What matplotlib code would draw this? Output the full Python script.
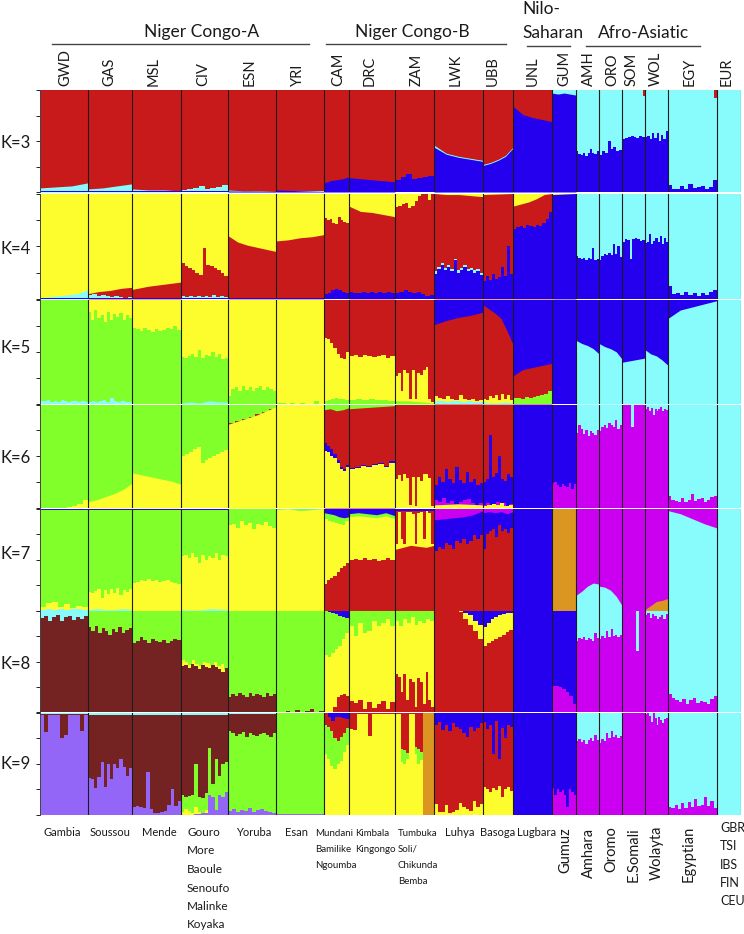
import matplotlib
matplotlib.use('Agg')
import matplotlib.pyplot as plt
import numpy as np

RED = '#C8191B'
YELLOW = '#FDFC2D'
CYAN = '#88FCFC'
BLUE = '#2400EE'
GREEN = '#80FF2A'
MAGENTA = '#CC00F0'
BROWN = '#752222'
ORANGE = '#DA9620'
PURPLE = '#9466F8'

pop_codes = ['GWD', 'GAS', 'MSL', 'CIV', 'ESN', 'YRI', 'CAM', 'DRC', 'ZAM', 'LWK', 'UBB',
             'UNL', 'GUM', 'AMH', 'ORO', 'SOM', 'WOL', 'EGY', 'EUR']
pop_sizes = [48, 44, 49, 47, 48, 48, 25, 46, 39, 49, 30, 39, 24, 23, 23, 23, 23, 49, 24]

# every list below: one sublist per population, in pop_codes order, upper edge in percent.
# 1 value = flat, up to 6 = trend, 7 or more = one column per value
k3_cyan = [[4, 5, 6, 9], [3, 4, 6, 8], [3, 2, 2, 1], [2, 3, 4, 6, 3, 4, 5, 7], [2, 1, 1, 0.5], [0.5], [0], [0], [0],
           [46, 38, 35, 33, 31], [27, 29, 32, 36, 44], [0], [100], [100], [100],
           [100, 100, 100, 100, 100, 100, 100, 100, 100, 94], [100],
           [100, 100, 100, 100, 100, 100, 100, 100, 100, 100, 100, 100, 100, 100, 92], [100]]
k3_blue = [[1], [1], [0.5], [0.5], [1, 0.5], [2, 0.5], [9, 11, 12, 13, 15], [14, 13, 12, 11, 10],
           [12, 15, 18, 13, 14, 15, 16], [44, 37, 34, 32, 30], [26, 28, 31, 35, 43], [84, 76, 73, 71, 69],
           [97, 96, 97, 96, 95], [40, 37, 36, 38, 35, 38, 42, 38, 37, 40], [36, 40, 38, 50, 42, 44, 40, 41],
           [52, 53, 54, 55, 54, 53, 55, 54], [54, 55, 52, 58, 53, 58, 50, 56, 52, 60],
           [7, 3, 3, 6, 3, 8, 4, 5, 6, 3, 5, 12], [0]]

k4_red = [[0], [5, 7, 8, 10, 11], [9, 12, 14, 16], [34, 31, 29, 27, 25, 23, 48, 32, 31, 29, 27, 25, 22],
          [60, 54, 51, 49, 47, 45], [55, 56, 58, 59, 61], [77, 75, 76, 72, 71, 78, 75, 73, 72], [88, 83, 82, 80, 78],
          [87, 88, 90, 91, 86, 88, 93, 98, 100, 100, 94, 100], [100, 99, 99, 98, 97], [99, 100],
          [88, 90, 92, 95, 99, 100], [0], [0], [0], [0], [0], [0], [0]]
k4_cyan = [[1, 2, 3, 4, 5, 9], [4, 5, 3, 4, 3, 2, 3, 2, 1, 2], [1], [3, 2, 3, 2, 3, 2, 3, 2, 4, 2, 3, 2], [0], [0], [0], [0], [0],
           [26, 30, 34, 29, 32, 28, 38, 27, 29, 32, 28, 29, 27, 28, 25], [0], [0], [0], [100], [100],
           [100, 100, 100, 100, 100, 100, 100, 100, 100, 100], [100], [100], [100]]
k4_blue = [[0.5], [1], [0.5], [1], [0.5], [0.5], [5, 6, 8, 9, 8, 7, 6], [7, 6, 6, 7, 6, 7, 6, 7, 6, 7, 6],
           [6, 7, 8, 7, 6, 7, 5, 3, 4], [24, 28, 32, 27, 30, 26, 37, 25, 27, 30, 26, 27, 25, 26, 23],
           [17, 22, 18, 24, 19, 21, 30, 22, 50, 24], [66, 68, 69, 67, 70, 69, 68, 70, 69, 72, 76, 82], [99, 100],
           [41, 39, 38, 39, 37, 39, 38, 48, 37, 38], [37, 41, 43, 42, 44, 42, 52, 43, 50, 40],
           [54, 57, 56, 38, 57, 58, 57, 55, 56], [53, 54, 62, 52, 55, 58, 54, 60, 52, 58, 54],
           [12, 5, 6, 4, 7, 4, 6, 3, 6, 4, 7, 8], [0]]

k5_red = [[0], [0], [0], [0], [0], [0], [100], [100], [100], [76, 80, 83, 85, 88], [95, 91, 87, 82, 70, 57],
          [27, 33, 35, 37, 39], [0], [0], [0], [0], [0], [0], [0]]
k5_yellow = [[0], [100], [100], [100], [100], [100], [63, 62, 58, 54, 48, 44, 43, 50],
             [46, 47, 45, 47, 46, 45, 46, 47, 44, 46], [27, 30, 12, 33, 30, 5, 33, 5, 30, 28, 33, 35, 5, 2],
             [8, 6, 5, 8, 5, 4, 9, 5, 4, 5, 3, 4], [5, 4, 8, 6, 9, 4, 10, 5, 9, 4], [0], [0], [0], [0], [0], [0], [0], [0]]
k5_green = [[99.5], [88, 80, 90, 82, 85, 79, 88, 80, 86, 83, 87, 80, 85, 82],
            [73, 72, 70, 73, 71, 69, 72, 70, 71, 73, 72, 75, 71], [45, 44, 46, 48, 45, 52, 44, 47, 46, 50, 45, 48, 43, 44],
            [8, 14, 16, 12, 17, 13, 16, 12, 15, 17, 13, 16, 14, 12], [1, 1, 0, 1, 0, 1, 0, 0, 3, 0],
            [3, 4, 5, 6, 5, 5, 4], [4, 5, 4, 5, 4, 4, 3], [3, 3, 2, 1], [0], [0],
            [6, 6, 5, 7, 6, 7, 8, 9, 10, 12], [0], [0], [0], [0], [0], [0], [0]]
k5_cyan = [[3, 3, 4, 2, 3, 2, 4, 3, 2, 3, 3, 2, 3, 2], [2, 3, 2, 3, 4, 2, 6, 3, 2, 3, 2, 2], [0], [1, 2, 1, 3, 2, 2], [0], [0], [0], [0], [0],
           [3, 3, 2, 3, 3, 2, 3, 2, 2], [2, 1, 1, 2, 1], [0], [0], [61, 58, 56, 53, 48], [58, 55, 53, 50, 43],
           [40, 41, 42, 43, 44], [52, 48, 46, 42, 37], [82, 90, 93, 96, 99], [100]]

k6_red = [[0], [0], [0], [0], [82, 84, 86, 88, 91, 93, 96], [0], [95, 96, 94, 95, 97], [96, 97, 98, 99], [100], [100], [100],
          [0], [0], [0], [0], [0], [0], [0], [0]]
k6_cyan = [[0], [0], [0], [0], [0], [0], [0], [0], [0], [0], [0], [0], [0], [100], [100], [100], [100], [100], [100]]
k6_blue = [[0], [0], [0], [0], [0], [0], [63, 60, 57, 52, 46, 40, 38, 42], [39, 40, 42, 41, 43, 44, 41, 45], [0],
           [22, 30, 25, 38, 28, 24, 40, 27, 24, 35, 25, 28, 22, 24], [25, 28, 71, 30, 34, 50, 28, 26, 33, 30],
           [100], [100], [0], [0], [0], [0], [0], [0]]
k6_magenta = [[0], [0], [0], [0], [0], [0], [0], [0], [0], [8, 6, 10, 5, 7, 4, 6, 8, 9, 5, 3, 5], [3, 5, 2, 4, 6, 3, 5, 2, 4], [0],
              [24, 25, 22, 20, 23, 21, 20, 24, 18, 23], [73, 80, 76, 72, 75, 70, 74, 73, 71, 75],
              [74, 78, 80, 77, 82, 80, 78, 85, 76, 80], [100, 100, 100, 100, 78, 100, 100, 100, 100, 100],
              [96, 98, 94, 97, 90, 96, 94, 96, 98, 94, 96, 95],
              [12, 8, 7, 6, 10, 6, 8, 14, 7, 9, 10, 6, 8, 11, 12], [0]]
k6_yellow = [[0, 0, 0, 0, 0, 1, 2, 4, 8], [6, 8, 11, 14, 18, 24], [34, 32, 30, 28, 26, 23],
             [50, 52, 54, 57, 59, 44, 46, 48, 50, 52, 54, 56], [81, 84, 87, 90, 94, 98], [100],
             [55, 54, 50, 48, 44, 38, 36, 40], [38, 39, 41, 40, 42, 43, 40, 44],
             [28, 32, 26, 33, 29, 3, 30, 2, 30, 26, 33, 33, 29, 2], [3, 4, 3], [2, 3, 4, 3, 5, 2, 3],
             [0], [0], [0], [0], [0], [0], [0], [0]]

k7_blue = [[100], [100], [100], [100], [100], [100], [100], [100], [100], [89, 90, 91, 92, 94, 98],
           [96, 97, 96, 97, 95, 97], [100], [0], [0], [0], [0], [0], [0], [0]]
k7_red_top = [[0], [0], [0], [0], [0], [0], [0], [0], [98], [0], [0], [0], [0], [0], [0], [0], [0], [0], [0]]
k7_green = [[99], [99], [99], [99], [100], [100], [96, 95, 94, 92, 91, 92], [95, 96, 95, 94, 96, 93], [0], [0], [0],
            [0], [0], [0], [0], [0], [0], [0], [0]]
k7_yellow = [[4, 7, 8, 4, 6, 3, 5, 4], [18, 17, 19, 21, 12, 20, 16, 21, 17, 22, 15, 20, 18, 21],
             [27, 28, 30, 29, 31, 29, 30, 28, 29, 30, 28, 27, 26], [54, 55, 52, 56, 53, 47, 55, 50, 54, 52, 56, 50, 55, 54],
             [84, 85, 81, 88, 84, 86, 80, 85, 84, 87, 83, 81], [99, 100, 98, 99, 100],
             [90, 88, 87, 86, 85, 84, 88], [92, 93, 92, 91, 93, 90],
             [65, 97, 70, 65, 97, 97, 95, 65, 96, 97, 70, 98, 96, 65], [0], [0], [0], [0], [0], [0], [0], [0], [0], [0]]
k7_red = [[0], [0], [0], [0], [0], [0], [26, 30, 32, 34, 38, 42, 44, 47], [50, 51, 50, 52, 50, 51, 49, 50, 52, 50],
          [60, 62, 64, 63, 62, 64], [58, 62, 60, 66, 64, 60, 68, 66, 70, 65, 68, 74, 70, 74],
          [60, 75, 78, 80, 72, 84, 78, 80, 76, 81], [0], [0], [0], [0], [0], [0], [0], [0]]
k7_orange = [[0], [0], [0], [0], [0], [0], [0], [0], [0], [0], [0], [0], [100], [0], [0], [0], [1, 5, 9, 10, 12], [0], [0]]
k7_cyan = [[1, 2, 1, 2, 1, 2, 2, 1], [1, 2, 1, 1, 2, 1], [0], [1, 0.5, 2, 1], [0], [0], [0], [0], [0], [0], [0], [0], [0],
           [15, 19, 24, 27, 26], [24, 23, 20, 14, 5], [0], [0], [98, 95, 90, 85, 81], [100]]

k8_cyan = [[100], [0], [0], [0], [0], [0], [0], [0], [0], [0], [0], [0], [0], [100], [100], [100], [100], [100], [100]]
k8_green = [[0], [100], [100], [100], [100], [100], [100, 99, 98, 97, 95, 94, 93], [100], [100], [0], [0],
            [0], [0], [0], [0], [0], [0], [0], [0]]
k8_yellow = [[0], [0], [0], [52, 50, 47, 52, 48, 46, 50, 49, 47, 50, 46, 48, 42], [0], [0], [57, 55, 58, 62, 65, 72, 78],
             [85, 75, 88, 78, 80, 90, 85, 88, 92, 85], [90, 85, 92, 88, 94, 86, 90, 88, 92, 90],
             [100, 100, 100, 100, 100, 100, 98, 96, 90, 86], [84, 88, 92, 94, 96, 97, 98, 98],
             [0], [0], [0], [0], [0], [0], [0], [0]]
k8_red = [[0], [0], [0], [0], [0], [0], [0, 0, 0, 5, 15, 17, 18, 16], [11, 9, 12, 3, 10, 4, 8, 11, 3, 10],
          [38, 35, 20, 38, 12, 33, 30, 5, 34, 30, 8, 40, 12, 5], [100, 100, 100, 100, 100, 99, 92, 86, 80, 72],
          [65, 68, 70, 72, 74, 76, 79, 81], [0], [0], [0], [0], [0], [0], [0], [0]]
k8_brown = [[93, 95, 90, 94, 96, 90, 94, 95, 91, 94, 92, 95], [84, 80, 85, 78, 83, 80, 76, 82, 79, 84, 78, 81, 83],
            [68, 70, 74, 71, 68, 72, 70, 69, 71, 68, 70, 72, 71], [46, 47, 44, 48, 46, 43, 47, 45, 44, 47, 45, 43, 40, 44],
            [15, 18, 16, 19, 17, 15, 19, 16, 18, 17, 15, 19, 16, 18], [0, 0, 1, 0, 2, 0, 1, 3, 0, 1],
            [0], [0], [0], [0], [0], [0], [0], [0], [0], [0], [0], [0], [0]]
k8_magenta = [[0], [0], [0], [0], [0], [0], [0], [0], [0], [0], [0], [0], [26, 26, 25, 23, 20, 16, 8],
              [70, 73, 72, 74, 71, 73, 72, 70, 78, 73], [72, 75, 73, 80, 74, 82, 75, 76, 74, 76],
              [100, 100, 100, 100, 100, 60, 100, 100], [96, 98, 93, 97, 95, 92, 94, 96, 92, 97],
              [18, 14, 12, 10, 13, 8, 12, 14, 9, 11, 10, 8, 13, 16], [0]]

k9_cyan = [[100], [100], [100], [100], [100], [0], [0], [0], [0], [0], [0], [0], [0], [100], [100], [0], [100], [100], [100]]
k9_red = [[0], [0], [0], [0], [0], [0], [100, 96, 92, 96, 96, 95, 94], [100], [100],
          [88, 91, 83, 88, 82, 90, 86, 84, 80, 76, 86, 82, 85, 90], [91, 84, 88, 60, 92, 55, 85, 75, 88, 86],
          [0], [0], [0], [0], [0], [0], [0], [0]]
k9_brown = [[99], [98], [98], [98], [99], [0], [0], [0], [0], [0], [0], [0], [0], [0], [0], [0], [0], [0], [0]]
k9_green = [[0], [0], [0], [20, 18, 19, 20, 50, 18, 17, 21, 65, 30, 55, 38, 50, 52],
            [82, 80, 77, 79, 81, 76, 80, 78, 77, 79, 80, 78, 76, 80], [100],
            [88, 86, 82, 75, 72, 76, 80, 85], [0], [0, 0, 64, 63, 61, 0, 0, 66, 64, 62, 0, 0, 0, 0],
            [0], [0], [0], [0], [0], [0], [0], [0], [0], [0]]
k9_yellow = [[0], [0], [0], [3, 6, 4, 2, 8, 3, 2, 5, 3, 6, 2, 5, 4, 3], [0], [0], [60, 55, 48, 45, 50, 53, 62, 68],
             [84, 83, 99, 99, 99, 77, 99, 99, 99, 99, 99, 99], [99, 99, 52, 50, 55, 99, 99, 60, 50, 54, 99, 99, 0, 0],
             [11, 3, 3, 10, 2, 3, 5, 12, 8, 6, 4, 14, 8, 11], [27, 25, 22, 26, 24, 28, 18, 25, 27, 23],
             [0], [0], [0], [0], [0], [0], [0], [0]]
k9_orange = [[0], [0], [0], [0], [0], [0], [0], [0], [0, 0, 0, 0, 0, 0, 0, 0, 0, 0, 100, 100, 100, 100],
             [0], [0], [0], [0], [0], [0], [0], [0], [0], [0]]
k9_purple = [[98, 81, 98, 98, 98, 75, 78, 98, 98, 98, 82, 98], [36, 35, 26, 37, 52, 27, 50, 35, 50, 46, 55, 47, 38, 46],
             [8, 9, 8, 7, 42, 6, 2, 2, 3, 4, 10, 25, 9, 14], [0, 0, 0, 0, 1, 1, 2, 2, 20, 18, 5, 20, 18, 22],
             [4, 6, 3, 5, 4, 7, 3, 5, 6, 4, 3, 2], [1], [0], [0], [0], [0], [0], [0], [0], [0], [0], [0], [0], [0], [0]]
k9_magenta = [[0], [0], [0], [0], [0], [0], [0], [0], [0], [0], [0], [0], [26, 20, 25, 22, 24, 20, 8, 25, 22, 20],
              [72, 74, 71, 73, 69, 73, 75, 72, 78, 73], [70, 74, 72, 80, 75, 82, 76, 78, 75, 77],
              [100], [99, 100, 97, 91, 100, 95, 88, 96, 93, 90, 94, 95],
              [8, 7, 10, 6, 12, 7, 13, 8, 16, 9, 10, 18, 9, 14, 7], [0]]

# background colour, then layers painted over it in order
panels = [
    ('K=3', RED, [(k3_cyan, CYAN), (k3_blue, BLUE)]),
    ('K=4', YELLOW, [(k4_red, RED), (k4_cyan, CYAN), (k4_blue, BLUE)]),
    ('K=5', BLUE, [(k5_red, RED), (k5_yellow, YELLOW), (k5_green, GREEN), (k5_cyan, CYAN)]),
    ('K=6', GREEN, [(k6_red, RED), (k6_cyan, CYAN), (k6_blue, BLUE), (k6_magenta, MAGENTA), (k6_yellow, YELLOW)]),
    ('K=7', MAGENTA, [(k7_blue, BLUE), (k7_red_top, RED), (k7_green, GREEN), (k7_yellow, YELLOW), (k7_red, RED),
                      (k7_orange, ORANGE), (k7_cyan, CYAN)]),
    ('K=8', BLUE, [(k8_cyan, CYAN), (k8_green, GREEN), (k8_yellow, YELLOW), (k8_red, RED), (k8_brown, BROWN),
                   (k8_magenta, MAGENTA)]),
    ('K=9', BLUE, [(k9_cyan, CYAN), (k9_red, RED), (k9_brown, BROWN), (k9_green, GREEN), (k9_yellow, YELLOW),
                   (k9_orange, ORANGE), (k9_purple, PURPLE), (k9_magenta, MAGENTA)]),
]

W, H = 744, 934
panel_tops = [90, 193.5, 299.6, 404.6, 508.6, 611.2, 712.6]
panel_bottoms = [192, 298.9, 404, 508, 610.6, 711.9, 815]
panel_label_y = [142.7, 249, 348, 458, 554, 664, 764]

plt.rcParams['font.family'] = ['Lato', 'DejaVu Sans']
fig = plt.figure(figsize=(W / 100, H / 100), dpi=100)
edges = np.concatenate([[0], np.cumsum(pop_sizes)])


def px_text(x, y, s, **kw):
    kw.setdefault('color', '#1a1a1a')
    fig.text(x / W, 1 - y / H, s, **kw)


def paint(ax, layer, color):
    for i, vals in enumerate(layer):
        if max(vals) == 0:
            continue
        x0, x1 = edges[i], edges[i + 1]
        n = len(vals)
        if n == 1:
            ax.fill_between([x0, x1], 0, [vals[0], vals[0]], color=color, lw=0)
        elif n >= 7:
            x = np.linspace(x0, x1, n + 1)
            ax.fill_between(x, 0, vals + [vals[-1]], step='post', color=color, lw=0)
        else:
            ax.fill_between(np.linspace(x0, x1, n), 0, vals, color=color, lw=0)


for (name, bg, layers), top, bottom, label_y in zip(panels, panel_tops, panel_bottoms, panel_label_y):
    ax = fig.add_axes([40 / W, 1 - bottom / H, 701 / W, (bottom - top) / H])
    ax.set_facecolor(bg)
    for layer, color in layers:
        paint(ax, layer, color)
    for e in edges[1:]:
        ax.axvline(e, color='#1c1c1c', lw=0.8)
    ax.set_xlim(0, edges[-1])
    ax.set_ylim(0, 100)
    ax.set_xticks([])
    ax.set_yticks([0, 25, 50, 75, 100])
    ax.set_yticklabels([])
    ax.tick_params(axis='y', length=3.2, width=0.7, color='#222222')
    for side in ['top', 'right', 'bottom']:
        ax.spines[side].set_visible(False)
    ax.spines['left'].set_linewidth(0.7)
    ax.spines['left'].set_color('#444444')
    px_text(1, label_y, name, fontsize=12, va='center', ha='left')

# group headings
group_names = ['Niger Congo-A', 'Niger Congo-B', 'Afro-Asiatic']
group_x = [202, 412, 644]
group_y = [32, 32, 33]
for s, x, y in zip(group_names, group_x, group_y):
    px_text(x, y, s, fontsize=12.5, ha='center', va='center')
px_text(522, 9, 'Nilo-', fontsize=12.5, ha='left', va='center')
px_text(522, 33, 'Saharan', fontsize=12.5, ha='left', va='center')

rule_x0 = [52, 326, 527, 586]
rule_x1 = [309, 506, 570, 700]
rule_y = [44, 44, 46, 46]
for a, b, y in zip(rule_x0, rule_x1, rule_y):
    fig.add_artist(plt.Line2D([a / W, b / W], [1 - y / H, 1 - y / H], color='#444444', lw=1))

# population codes above the panels
code_x = [65, 109, 154, 203, 250, 298, 338, 370, 417, 456, 493, 533, 564, 589, 612, 632, 656, 690, 727]
for s, x in zip(pop_codes, code_x):
    px_text(x, 86, s, fontsize=10.5, rotation=90, ha='center', va='bottom')

# names below the panels
names_flat = ['Gambia', 'Soussou', 'Mende', 'Yoruba', 'Esan', 'Luhya', 'Basoga', 'Lugbara']
names_flat_x = [44, 90, 142, 236, 285, 445, 480, 517]
for s, x in zip(names_flat, names_flat_x):
    px_text(x, 833, s, fontsize=8, ha='left', va='center')

civ_names = ['Gouro', 'More', 'Baoule', 'Senoufo', 'Malinke', 'Koyaka']
civ_y = [833, 851, 869.6, 888, 906, 925]
for s, y in zip(civ_names, civ_y):
    px_text(187, y, s, fontsize=8.5, ha='left', va='center')

cam_names = ['Mundani', 'Bamilike', 'Ngoumba']
for s, y in zip(cam_names, [833, 849.6, 865.7]):
    px_text(315, y, s, fontsize=7, ha='left', va='center')
drc_names = ['Kimbala', 'Kingongo']
for s, y in zip(drc_names, [833, 849.6]):
    px_text(355, y, s, fontsize=7, ha='left', va='center')
zam_names = ['Tumbuka', 'Soli/', 'Chikunda', 'Bemba']
for s, y in zip(zam_names, [833, 849, 865, 881]):
    px_text(398, y, s, fontsize=7, ha='left', va='center')

names_rot = ['Gumuz', 'Amhara', 'Oromo', 'E.Somali', 'Wolayta', 'Egyptian']
names_rot_x = [565, 589, 611, 634, 657, 689]
names_rot_y = [873, 878, 872, 882, 880, 882]
for s, x, y in zip(names_rot, names_rot_x, names_rot_y):
    px_text(x, y, s, fontsize=10.5, rotation=90, ha='center', va='bottom')

eur_names = ['GBR', 'TSI', 'IBS', 'FIN', 'CEU']
for s, y in zip(eur_names, [828, 846, 865, 883, 901]):
    px_text(720, y, s, fontsize=9, ha='left', va='center')

fig.savefig('out.png', dpi=100)
